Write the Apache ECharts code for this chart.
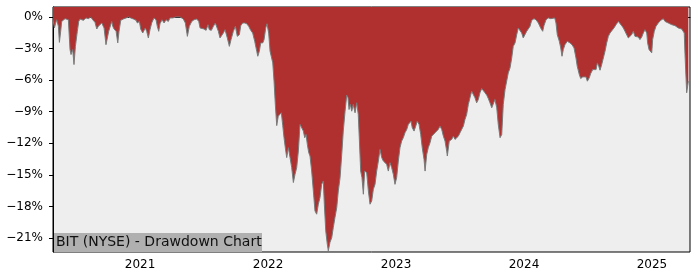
<!DOCTYPE html>
<html>
<head>
<meta charset="utf-8">
<script src="https://cdn.jsdelivr.net/npm/echarts@6/dist/echarts.min.js"></script>
<style>html,body{margin:0;padding:0;background:#fff;}#c{width:700px;height:280px;}</style>
</head>
<body>
<div id="c"></div>
<script>
// decimal-year dates
var dates = [
2020.320,2020.331,2020.341,2020.349,2020.362,2020.370,2020.380,2020.388,2020.414,2020.440,
2020.453,2020.461,2020.474,2020.484,2020.495,2020.510,2020.521,2020.531,2020.557,2020.578,
2020.596,2020.615,2020.630,2020.648,2020.662,2020.674,2020.701,2020.719,2020.734,2020.745,
2020.755,2020.766,2020.779,2020.787,2020.797,2020.813,2020.826,2020.836,2020.849,2020.870,
2020.891,2020.909,2020.927,2020.948,2020.969,2020.979,2020.995,2021.005,2021.021,2021.031,
2021.041,2021.052,2021.065,2021.078,2021.091,2021.109,2021.125,2021.135,2021.146,2021.156,
2021.172,2021.188,2021.203,2021.221,2021.234,2021.255,2021.281,2021.313,2021.338,2021.354,
2021.370,2021.385,2021.404,2021.422,2021.443,2021.459,2021.469,2021.484,2021.500,2021.516,
2021.531,2021.541,2021.557,2021.573,2021.588,2021.599,2021.612,2021.625,2021.638,2021.651,
2021.664,2021.682,2021.698,2021.711,2021.729,2021.745,2021.760,2021.776,2021.787,2021.802,
2021.818,2021.834,2021.849,2021.865,2021.880,2021.896,2021.912,2021.920,2021.932,2021.943,
2021.959,2021.969,2021.982,2021.992,2022.005,2022.016,2022.037,2022.047,2022.057,2022.068,
2022.080,2022.094,2022.104,2022.115,2022.125,2022.135,2022.146,2022.159,2022.172,2022.185,
2022.198,2022.211,2022.224,2022.237,2022.250,2022.263,2022.276,2022.287,2022.297,2022.307,
2022.318,2022.328,2022.341,2022.354,2022.367,2022.380,2022.393,2022.406,2022.419,2022.432,
2022.440,2022.451,2022.463,2022.471,2022.484,2022.498,2022.510,2022.523,2022.537,2022.549,
2022.563,2022.576,2022.588,2022.602,2022.615,2022.625,2022.633,2022.643,2022.654,2022.666,
2022.680,2022.693,2022.705,2022.713,2022.724,2022.734,2022.745,2022.755,2022.771,2022.784,
2022.797,2022.810,2022.823,2022.836,2022.849,2022.862,2022.875,2022.888,2022.901,2022.914,
2022.927,2022.940,2022.953,2022.966,2022.979,2022.992,2023.005,2023.018,2023.031,2023.044,
2023.057,2023.070,2023.084,2023.096,2023.109,2023.117,2023.127,2023.141,2023.154,2023.166,
2023.180,2023.193,2023.205,2023.219,2023.227,2023.240,2023.252,2023.266,2023.279,2023.305,
2023.318,2023.330,2023.344,2023.357,2023.370,2023.383,2023.396,2023.401,2023.416,2023.435,
2023.448,2023.461,2023.474,2023.487,2023.500,2023.513,2023.526,2023.539,2023.552,2023.565,
2023.578,2023.591,2023.604,2023.617,2023.630,2023.643,2023.656,2023.670,2023.682,2023.695,
2023.709,2023.721,2023.734,2023.748,2023.760,2023.773,2023.787,2023.799,2023.813,2023.826,
2023.838,2023.852,2023.865,2023.877,2023.891,2023.904,2023.916,2023.930,2023.943,2023.955,
2023.969,2023.982,2023.994,2024.008,2024.021,2024.034,2024.047,2024.060,2024.078,2024.094,
2024.112,2024.130,2024.146,2024.156,2024.172,2024.190,2024.209,2024.224,2024.240,2024.250,
2024.260,2024.276,2024.287,2024.297,2024.307,2024.320,2024.338,2024.359,2024.375,2024.391,
2024.406,2024.416,2024.432,2024.443,2024.459,2024.471,2024.484,2024.495,2024.510,2024.521,
2024.537,2024.549,2024.563,2024.573,2024.584,2024.594,2024.607,2024.620,2024.633,2024.646,
2024.659,2024.672,2024.685,2024.703,2024.719,2024.737,2024.750,2024.763,2024.776,2024.789,
2024.802,2024.815,2024.828,2024.841,2024.854,2024.867,2024.880,2024.893,2024.906,2024.920,
2024.932,2024.945,2024.959,2024.966,2024.977,2024.990,2024.998,2025.005,2025.018,2025.031,
2025.049,2025.068,2025.088,2025.102,2025.115,2025.127,2025.141,2025.154,2025.166,2025.180,
2025.193,2025.205,2025.219,2025.232,2025.245,2025.252,2025.258,2025.271,2025.284
];
// drawdown in percent
var drawdown = [
-0.26,-1.04,-0.57,-0.26,-0.89,-2.41,-1.36,-0.42,-0.16,-0.26,
-3.10,-3.57,-3.10,-4.52,-2.79,-1.36,-0.42,-0.19,-0.32,-0.09,
-0.16,0,-0.26,-0.51,-1.14,-0.89,-0.57,-1.04,-2.63,-2.46,
-1.36,-1.20,-0.42,-0.89,-1.14,-1.36,-2.46,-1.36,-0.32,-0.19,
-0.09,0,-0.09,-0.19,-0.32,-0.57,-0.42,-1.14,-1.52,-1.52,
-1.04,-1.36,-1.99,-1.20,-0.57,-0.09,-0.26,-0.89,-1.36,-0.64,
-0.26,-0.57,-0.26,-0.42,-0.09,-0.09,0,0,-0.19,-0.57,
-1.84,-0.89,-0.42,-0.26,-0.19,-0.42,-1.04,-1.20,-1.14,-1.27,
-0.73,-1.20,-1.27,-0.89,-0.57,-0.73,-1.36,-1.99,-2.15,-1.52,
-1.20,-1.99,-2.79,-2.15,-1.36,-0.89,-1.84,-1.68,-0.82,-0.57,
-0.57,-0.64,-0.89,-1.27,-1.52,-2.31,-3.26,-3.73,-3.26,-2.46,
-2.46,-2.15,-1.04,-0.64,-1.52,-3.26,-4.36,-6.10,-8.31,-10.32,
-9.42,-9.57,-9.10,-10.32,-11.47,-12.42,-13.36,-12.42,-13.36,-14.31,
-15.73,-14.95,-14.31,-12.74,-10.21,-10.15,-10.84,-11.47,-11.16,-12.10,
-12.89,-13.21,-14.64,-16.53,-18.43,-18.74,-17.79,-17.16,-15.90,-15.58,
-17.79,-20.32,-21.58,-22.22,-21.42,-20.95,-20.00,-19.05,-18.10,-16.53,
-15.26,-13.05,-10.84,-8.95,-7.43,-7.68,-8.79,-8.31,-8.95,-8.31,
-9.10,-8.15,-9.26,-11.47,-14.64,-15.26,-16.84,-14.64,-14.79,-16.53,
-17.79,-17.48,-16.37,-15.90,-14.64,-13.69,-12.58,-13.36,-13.69,-13.53,
-14.00,-14.64,-13.84,-14.31,-14.95,-15.90,-15.26,-13.69,-12.42,-11.79,
-11.47,-11.00,-10.68,-10.21,-10.05,-9.90,-10.52,-10.84,-10.37,-9.90,
-10.21,-11.16,-12.42,-13.53,-14.64,-13.05,-12.42,-11.94,-11.32,-11.00,
-10.84,-10.68,-10.37,-10.68,-11.32,-11.79,-12.74,-13.21,-11.79,-11.63,
-11.32,-11.63,-11.47,-11.32,-11.00,-10.68,-10.37,-9.73,-9.26,-8.31,
-7.68,-7.05,-7.20,-7.68,-8.15,-7.84,-7.20,-6.80,-6.99,-7.20,
-7.43,-7.74,-8.15,-8.63,-8.47,-7.84,-8.63,-10.21,-11.47,-11.16,
-8.31,-6.89,-6.89,-5.31,-4.83,-3.89,-2.79,-2.46,-1.68,-1.04,
-1.11,-1.52,-1.99,-1.99,-1.36,-1.30,-0.89,-0.32,-0.16,-0.26,
-0.57,-1.04,-1.36,-0.82,-0.26,-0.09,-0.16,-0.09,-0.09,-0.57,
-1.68,-2.31,-2.94,-3.73,-3.10,-2.63,-2.31,-2.46,-2.63,-2.94,
-3.89,-4.68,-5.47,-5.85,-5.69,-5.88,-5.69,-6.10,-5.78,-5.37,
-5.00,-4.83,-5.00,-4.36,-4.68,-5.06,-4.52,-3.89,-3.26,-2.46,
-1.84,-1.52,-1.36,-1.04,-0.73,-0.42,-0.51,-0.82,-1.04,-1.36,
-1.52,-1.99,-1.84,-1.68,-1.36,-1.84,-1.99,-1.90,-2.15,-1.90,
-1.52,-1.20,-1.52,-2.46,-3.10,-3.26,-3.41,-2.15,-1.36,-0.89,
-0.57,-0.32,-0.16,-0.42,-0.32,-0.57,-0.51,-0.73,-0.64,-0.82,
-0.89,-1.04,-1.20,-1.14,-1.20,-1.52,-3.57,-7.20,-6.10
];
var yearTicks = [2021, 2022, 2023, 2024, 2025];
var pctTicks = [0, -3, -6, -9, -12, -15, -18, -21];
var titleText = 'BIT (NYSE) - Drawdown Chart';

var seriesData = dates.map(function (d, i) { return [d, drawdown[i]]; });
var chart = echarts.init(document.getElementById('c'), null, {renderer: 'canvas'});
var font = 'DejaVu Sans';
chart.setOption({
  animation: false,
  backgroundColor: '#ffffff',
  grid: {left: 53, right: 10, top: 7, bottom: 28, show: true, backgroundColor: '#eeeeee', borderColor: '#000', borderWidth: 1},
  xAxis: {
    type: 'value', min: 2020.32, max: 2025.297,
    axisLine: {show: true, lineStyle: {color: '#000', width: 1}},
    axisTick: {show: true, customValues: yearTicks, length: 4, lineStyle: {color: '#000'}},
    axisLabel: {customValues: yearTicks, formatter: function (v) { return String(Math.round(v)); }, color: '#000', fontFamily: font, fontSize: 12, margin: 7},
    splitLine: {show: false}
  },
  yAxis: {
    type: 'value', min: -22.33, max: 0.95,
    axisLine: {show: true, lineStyle: {color: '#000', width: 1}},
    axisTick: {show: true, customValues: pctTicks, length: 4, lineStyle: {color: '#000'}},
    axisLabel: {customValues: pctTicks, formatter: function (v) { var r = Math.round(v); return (r === 0 ? '0' : '\u2212' + Math.abs(r)) + '%'; }, color: '#000', fontFamily: font, fontSize: 12, margin: 10},
    splitLine: {show: false}
  },
  series: [{
    type: 'line', data: seriesData, showSymbol: false, smooth: false,
    lineStyle: {color: '#7a7a7a', width: 1},
    areaStyle: {color: '#b03030', opacity: 1, origin: 'end'}
  }],
  graphic: [
    {type: 'rect', left: 54, top: 233, shape: {width: 208, height: 19}, style: {fill: '#b0b0b0'}, z: 100},
    {type: 'text', left: 56, top: 235, style: {text: titleText, fill: '#111', font: '14px "DejaVu Sans"'}, z: 101}
  ]
});
</script>
</body>
</html>
